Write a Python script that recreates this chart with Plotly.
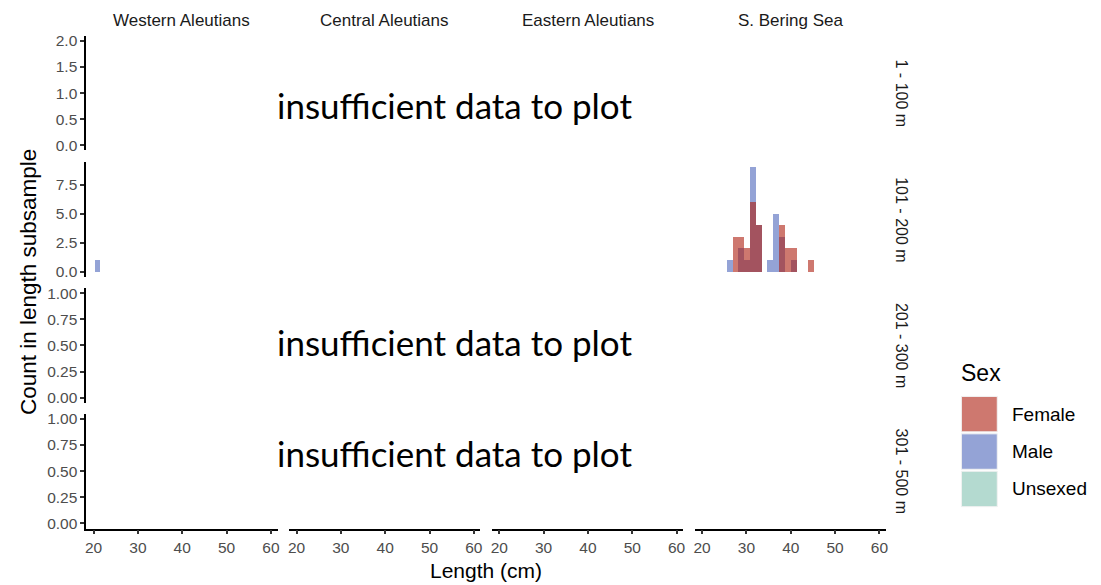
import plotly.graph_objects as go

W, H = 1101, 585

regions = ["Western Aleutians", "Central Aleutians", "Eastern Aleutians", "S. Bering Sea"]
depths = ["1 - 100 m", "101 - 200 m", "201 - 300 m", "301 - 500 m"]
sexes = ["Female", "Male", "Unsexed"]

# histogram bins (bin centre length, cm) and counts, for the 101 - 200 m stratum
female_bering_len = [27.5, 28.8, 30.1, 31.4, 32.7, 38.0, 39.3, 40.6, 44.5]
female_bering_cnt = [3, 3, 2, 6, 4, 4, 2, 2, 1]
male_bering_len = [26.2, 28.8, 30.1, 31.4, 32.7, 35.3, 36.6, 38.0, 40.6]
male_bering_cnt = [1, 2, 1, 9, 4, 1, 5, 3, 1]
male_western_len = [20.95]
male_western_cnt = [1]

x_ticks = [20, 30, 40, 50, 60]
y_ticks = [[0, 0.5, 1.0, 1.5, 2.0], [0, 2.5, 5.0, 7.5], [0, 0.25, 0.5, 0.75, 1.0], [0, 0.25, 0.5, 0.75, 1.0]]
y_fmt = [".1f", ".1f", ".2f", ".2f"]
y_max = [2.0, 9.0, 1.0, 1.0]
no_data_rows = [0, 2, 3]
no_data_text = "insufficient data to plot"

bin_width = 1.307
x_range = [18.35, 61.5]

base_rgb = {"Female": (173, 30, 15), "Male": (77, 102, 187), "Unsexed": (130, 193, 177)}
alpha = 0.6


def rgba(s, a=alpha):
    r, g, b = base_rgb[s]
    return f"rgba({r},{g},{b},{a})"


def blended(s):
    r, g, b = base_rgb[s]
    return "rgb(%d,%d,%d)" % tuple(round(255 * (1 - alpha) + alpha * v) for v in (r, g, b))


# panel geometry in pixels
col_left = [85.5, 289.0, 492.3, 695.7]
col_w = 191.8
row_top = [33, 161, 288, 415]
row_h = 116

FONT = "Arial, Liberation Sans, sans-serif"
TICKFONT = dict(family=FONT, size=15.5, color="#4d4d4d")

fig = go.Figure()
layout = {}


def ax_id(r, c):
    return r * 4 + c + 1


def suffix(r, c):
    i = ax_id(r, c)
    return "" if i == 1 else str(i)


for r in range(4):
    span = y_max[r]
    yr = [-0.05 * span, span * 1.05]
    for c in range(4):
        sx = suffix(r, c)
        x0 = col_left[c] / W
        x1 = (col_left[c] + col_w) / W
        y1 = 1 - row_top[r] / H
        y0 = 1 - (row_top[r] + row_h) / H
        bottom = r == 3
        left = c == 0
        layout["xaxis" + sx] = dict(
            domain=[x0, x1], range=x_range, anchor="y" + sx,
            showgrid=False, zeroline=False,
            showline=bottom, linecolor="black", linewidth=1.7,
            ticks="outside" if bottom else "", ticklen=4, tickcolor="#333333", tickwidth=1.5,
            tickvals=x_ticks, showticklabels=bottom, tickfont=TICKFONT,
            fixedrange=True,
        )
        layout["yaxis" + sx] = dict(
            domain=[y0, y1], range=yr, anchor="x" + sx,
            showgrid=False, zeroline=False,
            showline=left, linecolor="black", linewidth=1.7,
            ticks="outside" if left else "", ticklen=4, tickcolor="#333333", tickwidth=1.5,
            tickvals=y_ticks[r], tickformat=y_fmt[r], showticklabels=left, tickfont=TICKFONT,
            fixedrange=True,
        )
        # invisible placeholder so every panel's axes are drawn
        fig.add_trace(go.Scatter(
            x=[x_ticks[0]], y=[0], mode="markers", marker=dict(opacity=0),
            showlegend=False, hoverinfo="skip", xaxis="x" + sx, yaxis="y" + sx,
        ))


def add_bars(lens, cnts, sex, r, c):
    sx = suffix(r, c)
    fig.add_trace(go.Bar(
        x=lens, y=cnts, width=bin_width, name=sex, showlegend=False,
        marker=dict(color=rgba(sex), line=dict(width=0)),
        xaxis="x" + sx, yaxis="y" + sx,
    ))


# male drawn first, female overlaid
add_bars(male_western_len, male_western_cnt, "Male", 1, 0)
add_bars(male_bering_len, male_bering_cnt, "Male", 1, 3)
add_bars(female_bering_len, female_bering_cnt, "Female", 1, 3)


def ann(text, x, y, size, color="black", angle=0, xanchor="center", family=FONT):
    return dict(
        text=text, x=x / W, y=1 - y / H, xref="paper", yref="paper",
        showarrow=False, textangle=angle, xanchor=xanchor, yanchor="middle",
        font=dict(family=family, size=size, color=color),
    )


annotations = []
for c, name in enumerate(regions):
    annotations.append(ann(name, col_left[c] + col_w / 2, 18, 17, "#1a1a1a"))
for r, name in enumerate(depths):
    annotations.append(ann(name, 903, row_top[r] + row_h / 2, 16, "#1a1a1a", angle=90))
no_data_y = {0: 103, 2: 343, 3: 455}
for r in no_data_rows:
    annotations.append(ann(no_data_text, 455, no_data_y[r], 35, family="Lato, Open Sans, sans-serif"))
annotations.append(ann("Count in length subsample", 27, 282, 22.5, angle=-90))
annotations.append(ann("Length (cm)", 486.5, 573, 21))

# legend drawn manually
shapes = []
annotations.append(ann("Sex", 961, 374, 23, xanchor="left"))
key_top = 396.5
key_h = 37.8
for k, s in enumerate(sexes):
    t = key_top + k * key_h
    shapes.append(dict(
        type="rect", xref="paper", yref="paper",
        x0=963 / W, x1=999 / W, y0=1 - (t + 1) / H, y1=1 - (t + key_h - 1) / H,
        fillcolor=blended(s), line=dict(color="#f2f2f2", width=1),
    ))
    annotations.append(ann(s, 1012, t + key_h / 2, 19, xanchor="left"))

fig.update_layout(
    **layout,
    width=W, height=H,
    margin=dict(l=0, r=0, t=0, b=0),
    paper_bgcolor="white", plot_bgcolor="white",
    barmode="overlay", bargap=0,
    showlegend=False,
    annotations=annotations, shapes=shapes,
)

fig.write_html("out.html", config={"displayModeBar": False},
               post_script="document.body.style.margin='0px';")
